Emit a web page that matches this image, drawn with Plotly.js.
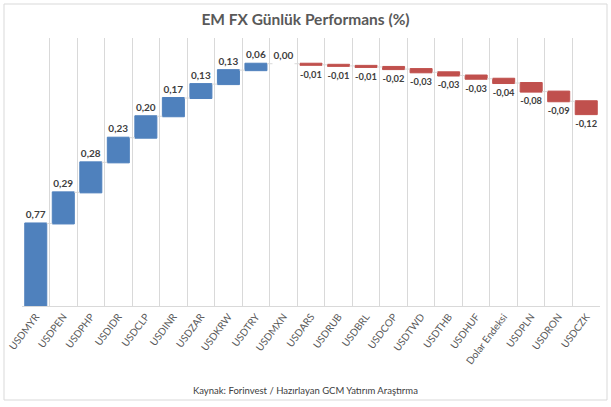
<!DOCTYPE html>
<html><head><meta charset="utf-8">
<script src="https://cdn.plot.ly/plotly-3.0.1.min.js"></script>
<style>html,body{margin:0;padding:0;background:#fff}#c{width:611px;height:407px}</style>
</head><body><div id="c"></div>
<script>
const categories = ["USDMYR","USDPEN","USDPHP","USDIDR","USDCLP","USDINR","USDZAR","USDKRW","USDTRY","USDMXN","USDARS","USDRUB","USDBRL","USDCOP","USDTWD","USDTHB","USDHUF","Dolar Endeksi","USDPLN","USDRON","USDCZK"];
const values = [0.77,0.29,0.28,0.23,0.20,0.17,0.13,0.13,0.06,0.00,-0.01,-0.01,-0.01,-0.02,-0.03,-0.03,-0.03,-0.04,-0.08,-0.09,-0.12];
const labels = values.map(v => v.toFixed(2).replace('.', ','));

const L=22, R=600, T=38, B=306, W=611, H=407;
const pw=R-L, ph=B-T;
const px = x => (x-L)/pw, py = y => (B-y)/ph;

Plotly.newPlot('c', [{
  type:'waterfall',
  x: categories,
  y: values,
  measure: values.map(()=> 'relative'),
  text: labels,
  textposition:'outside',
  textfont:{family:'Lato, sans-serif', size:10, color:'#404040', weight:'bold'},
  outsidetextfont:{family:'Lato, sans-serif', size:10, color:'#404040', weight:'bold'},
  cliponaxis:false,
  increasing:{marker:{color:'#4f81bd', line:{color:'#4f81bd', width:1}}},
  decreasing:{marker:{color:'#c0504d', line:{color:'#c0504d', width:1}}},
  connector:{mode:'between', line:{color:'#d9d9d9', width:1}},
  hoverinfo:'none'
}], {
  width:W, height:H,
  margin:{l:L, r:W-R, t:T, b:H-B},
  paper_bgcolor:'#fff', plot_bgcolor:'#fff',
  showlegend:false,
  bargap:0.37,
  title:{text:'EM FX Günlük Performans (%)', font:{family:'Lato, sans-serif', size:15.5, color:'#595959', weight:'bold'}, x:0.5, xanchor:'center', y:1-20/H, yanchor:'middle'},
  xaxis:{type:'category', tickson:'boundaries', showgrid:true, gridcolor:'#d9d9d9', gridwidth:1,
    showline:true, linecolor:'#d9d9d9', ticks:'', tickangle:-53,
    tickfont:{family:'Lato, sans-serif', size:10, color:'#595959'}},
  yaxis:{range:[0,2.5], visible:false, showgrid:false, zeroline:false},
  annotations:[{text:'Kaynak: Forinvest / Hazırlayan GCM Yatırım Araştırma', xref:'paper', yref:'paper',
    x:px(305), y:py(390), xanchor:'center', yanchor:'middle', showarrow:false,
    font:{family:'Lato, sans-serif', size:9.5, color:'#404040'}}],
  shapes:[{type:'rect', xref:'paper', yref:'paper', x0:px(4), x1:px(607), y0:py(400), y1:py(4),
    line:{color:'#d9d9d9', width:1}, fillcolor:'rgba(0,0,0,0)', layer:'below'}]
}, {staticPlot:true});
</script></body></html>
